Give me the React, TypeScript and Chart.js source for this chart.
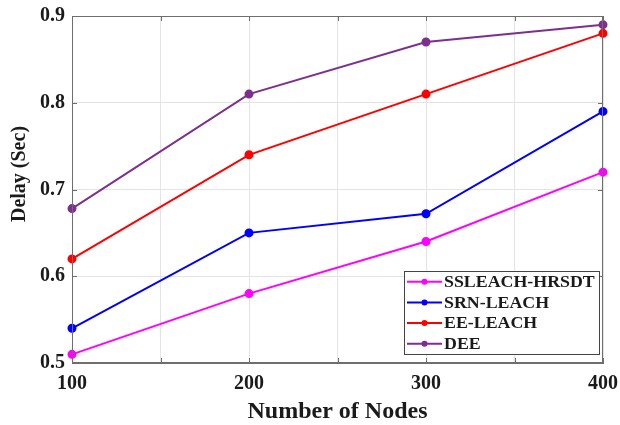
import React, { useEffect, useRef } from 'react';
import { Chart, registerables } from 'chart.js';

Chart.register(...registerables);

const nodes = [100, 200, 300, 400];
const ssleachHrsdt = [0.51, 0.58, 0.64, 0.72];
const srnLeach = [0.54, 0.65, 0.672, 0.79];
const eeLeach = [0.62, 0.74, 0.81, 0.88];
const dee = [0.678, 0.81, 0.87, 0.89];
const seriesNames = ['SSLEACH-HRSDT', 'SRN-LEACH', 'EE-LEACH', 'DEE'];
const seriesColors = ['#ff00ff', '#0000ff', '#ff0000', '#7e2f8e'];
const xLabelTicks = [100, 200, 300, 400];
const xTitle = 'Number of Nodes';
const yTitle = 'Delay (Sec)';

const FONT = '"Liberation Serif", "Times New Roman", serif';

const boxPlugin = {
  id: 'matlabBox',
  afterDatasetsDraw(chart: any) {
    const { ctx, chartArea: a, scales } = chart;
    const xs = scales.x;
    const ys = scales.y;
    ctx.save();
    // box
    ctx.strokeStyle = '#6e6e6e';
    ctx.lineWidth = 1;
    ctx.strokeRect(a.left + 0.5, a.top + 0.5, a.right - a.left - 1, a.bottom - a.top - 1);
    // inner ticks
    const tl = 5;
    ctx.beginPath();
    xs.ticks.forEach((t: any) => {
      const px = Math.round(xs.getPixelForValue(t.value)) + 0.5;
      ctx.moveTo(px, a.bottom);
      ctx.lineTo(px, a.bottom - tl);
      ctx.moveTo(px, a.top);
      ctx.lineTo(px, a.top + tl);
    });
    ys.ticks.forEach((t: any) => {
      const py = Math.round(ys.getPixelForValue(t.value)) + 0.5;
      ctx.moveTo(a.left, py);
      ctx.lineTo(a.left + tl, py);
      ctx.moveTo(a.right, py);
      ctx.lineTo(a.right - tl, py);
    });
    ctx.stroke();

    // y axis title (placed like the reference, slightly above the axis centre)
    ctx.save();
    ctx.translate(20, 174);
    ctx.rotate(-Math.PI / 2);
    ctx.font = `bold 20px ${FONT}`;
    ctx.fillStyle = '#1a1a1a';
    ctx.textAlign = 'center';
    ctx.textBaseline = 'middle';
    ctx.fillText(yTitle, 0, 0);
    ctx.restore();

    // legend
    const ds = chart.data.datasets;
    const rowH = 20.7;
    const boxW = 195;
    const boxH = 83;
    const bx = a.right - 4 - boxW;
    const by = a.bottom - 9 - boxH;
    ctx.fillStyle = '#ffffff';
    ctx.fillRect(bx, by, boxW, boxH);
    ctx.strokeStyle = '#444';
    ctx.lineWidth = 1;
    ctx.strokeRect(Math.round(bx) + 0.5, Math.round(by) + 0.5, boxW, boxH);
    ctx.textBaseline = 'middle';
    ctx.textAlign = 'left';
    ds.forEach((d: any, i: number) => {
      const cy = by + 10.7 + i * rowH;
      ctx.strokeStyle = d.borderColor;
      ctx.lineWidth = 2;
      ctx.beginPath();
      ctx.moveTo(bx + 3, cy);
      ctx.lineTo(bx + 38, cy);
      ctx.stroke();
      ctx.fillStyle = d.borderColor;
      ctx.beginPath();
      ctx.arc(bx + 20.5, cy, 3, 0, Math.PI * 2);
      ctx.fill();
      ctx.save();
      ctx.translate(bx + 40, cy + 1);
      ctx.scale(1.05, 1);
      ctx.font = `bold 17px ${FONT}`;
      ctx.fillStyle = '#1a1a1a';
      ctx.fillText(d.label, 0, 0);
      ctx.restore();
    });
    ctx.restore();
  },
};

export default function App() {
  const ref = useRef<HTMLCanvasElement | null>(null);
  useEffect(() => {
    if (!ref.current) return;
    const series = [ssleachHrsdt, srnLeach, eeLeach, dee];
    const chart = new Chart(ref.current, {
      type: 'line',
      data: {
        datasets: series.map((vals, i) => ({
          label: seriesNames[i],
          data: nodes.map((n, j) => ({ x: n, y: vals[j] })),
          borderColor: seriesColors[i],
          backgroundColor: seriesColors[i],
          borderWidth: 2,
          pointRadius: 3.5,
          pointHoverRadius: 3.5,
          tension: 0,
          clip: false,
        })),
      },
      options: {
        animation: false,
        responsive: true,
        maintainAspectRatio: false,
        layout: { padding: { top: 16, right: 17, left: 0, bottom: 0 } },
        plugins: { legend: { display: false }, tooltip: { enabled: false } },
        scales: {
          x: {
            type: 'linear',
            min: 100,
            max: 400,
            afterFit: (s: any) => {
              s.height = 62;
              s.paddingLeft = 0;
              s.paddingRight = 0;
            },
            grid: { color: '#e4e4e4', drawTicks: false, lineWidth: 1 },
            border: { display: true, color: '#6e6e6e' },
            ticks: {
              stepSize: 50,
              padding: 9,
              color: '#1a1a1a',
              font: { family: FONT, size: 20, weight: 'bold' },
              callback: (v: any) => (xLabelTicks.includes(Number(v)) ? String(v) : ''),
              maxRotation: 0,
              autoSkip: false,
            },
            title: {
              display: true,
              text: xTitle,
              color: '#1a1a1a',
              font: { family: FONT, size: 24, weight: 'bold', lineHeight: 1 },
              padding: { top: 0, bottom: 1 },
            },
          },
          y: {
            min: 0.5,
            max: 0.9,
            afterFit: (s: any) => {
              s.width = 72;
              s.paddingTop = 0;
              s.paddingBottom = 0;
            },
            grid: { color: '#e4e4e4', drawTicks: false, lineWidth: 1 },
            border: { display: true, color: '#6e6e6e' },
            ticks: {
              stepSize: 0.1,
              padding: 7,
              color: '#1a1a1a',
              font: { family: FONT, size: 20, weight: 'bold' },
              callback: (v: any) => Number(v).toFixed(1),
            },
            title: { display: false, text: yTitle },
          },
        },
      },
      plugins: [boxPlugin],
    } as any);
    return () => chart.destroy();
  }, []);
  return (
    <div style={{ position: 'fixed', left: 0, top: 0, width: 620, height: 425, background: '#fff' }}>
      <canvas ref={ref} />
    </div>
  );
}
